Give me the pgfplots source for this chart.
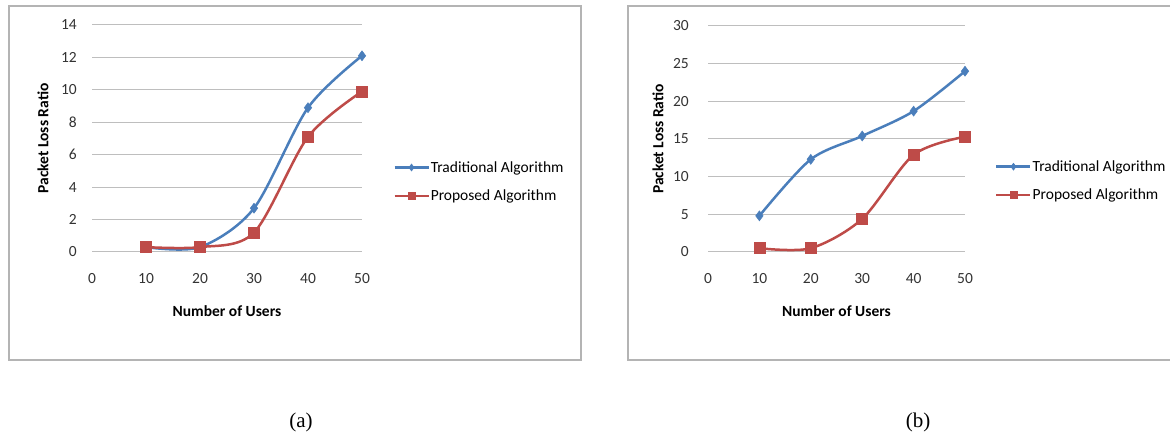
\documentclass[border=0pt]{standalone}
\usepackage{fontspec}
\setmainfont{Carlito}
\newfontfamily\capfont{Liberation Serif}
\usepackage{pgfplots}
\pgfplotsset{compat=1.18}

\definecolor{tradblue}{RGB}{74,126,187}
\definecolor{propred}{RGB}{190,75,72}
\definecolor{framegray}{RGB}{180,180,180}
\definecolor{gridgray}{RGB}{190,190,190}

\newcommand{\chartfont}{\fontsize{15.5}{18}\selectfont}

\pgfplotsset{
  excelchart/.style={
    scale only axis,
    anchor=south west,
    clip=false,
    xmin=0, xmax=50, ymin=0,
    xtick={0,10,...,50},
    axis line style={draw=none},
    major tick length=0pt,
    ymajorgrids,
    grid style={gridgray, line width=1pt},
    /pgf/number format/assume math mode=true,
    every tick label/.append style={font=\chartfont, text=black!80, inner sep=0pt},
    xticklabel style={anchor=north, yshift=-21pt},
    label style={font=\bfseries\chartfont},
    xlabel={Number of Users},
    ylabel={Packet Loss Ratio},
    xlabel style={at={(axis description cs:0.5,0)}, anchor=center, yshift=-59pt},
    legend style={draw=none, fill=none, inner sep=0pt, font=\chartfont,
      row sep=14pt, nodes={inner sep=1pt}, anchor=west},
    legend cell align=left,
    legend image code/.code={
      \draw[mark repeat=2, mark phase=2, #1, mark size=3.5pt]
        plot coordinates {(0pt,0pt) (17pt,0pt) (34pt,0pt)};},
  },
  trad/.style={tradblue, line width=2.5pt, smooth, mark=diamond*,
    mark size=5pt, mark options={solid, fill=tradblue, line width=0.5pt}},
  prop/.style={propred, line width=2.5pt, smooth, mark=square*,
    mark size=5.5pt, mark options={solid, fill=propred, line width=0.5pt}},
}

\begin{document}
\begin{tikzpicture}
\useasboundingbox (0pt,0pt) rectangle (1170pt,434pt);

% panel frames
\draw[framegray, line width=1.5pt] (9pt,74pt) rectangle (581pt,428pt);
\draw[framegray, line width=1.5pt] (628pt,74pt) rectangle (1185pt,428pt);

% (a)
\begin{axis}[excelchart,
  at={(92pt,182pt)}, width=270pt, height=227pt,
  ymax=14, ytick={0,2,...,14},
  yticklabel style={anchor=east, xshift=-15pt},
  ylabel style={at={(axis description cs:-0.1815,0.5)}, anchor=center},
  legend style={at={(axis description cs:1.115,0.31)}},
]
\addplot[trad] coordinates {(10,0.3) (20,0.3) (30,2.7) (40,8.9) (50,12.1)};
\addlegendentry{Traditional Algorithm}
\addplot[prop] coordinates {(10,0.3) (20,0.3) (30,1.2) (40,7.1) (50,9.9)};
\addlegendentry{Proposed Algorithm}
\end{axis}

% (b)
\begin{axis}[excelchart,
  at={(708pt,182pt)}, width=257pt, height=226pt,
  ymax=30, ytick={0,5,...,30},
  yticklabel style={anchor=east, xshift=-19pt},
  ylabel style={at={(axis description cs:-0.195,0.5)}, anchor=center},
  legend style={at={(axis description cs:1.1167,0.315)}},
]
\addplot[trad] coordinates {(10,4.8) (20,12.3) (30,15.4) (40,18.7) (50,24.0)};
\addlegendentry{Traditional Algorithm}
\addplot[prop] coordinates {(10,0.5) (20,0.5) (30,4.4) (40,12.9) (50,15.3)};
\addlegendentry{Proposed Algorithm}
\end{axis}

% captions
\node[font=\capfont\fontsize{21}{24}\selectfont] at (301pt,12pt) {(a)};
\node[font=\capfont\fontsize{21}{24}\selectfont] at (918pt,12pt) {(b)};
\end{tikzpicture}
\end{document}
